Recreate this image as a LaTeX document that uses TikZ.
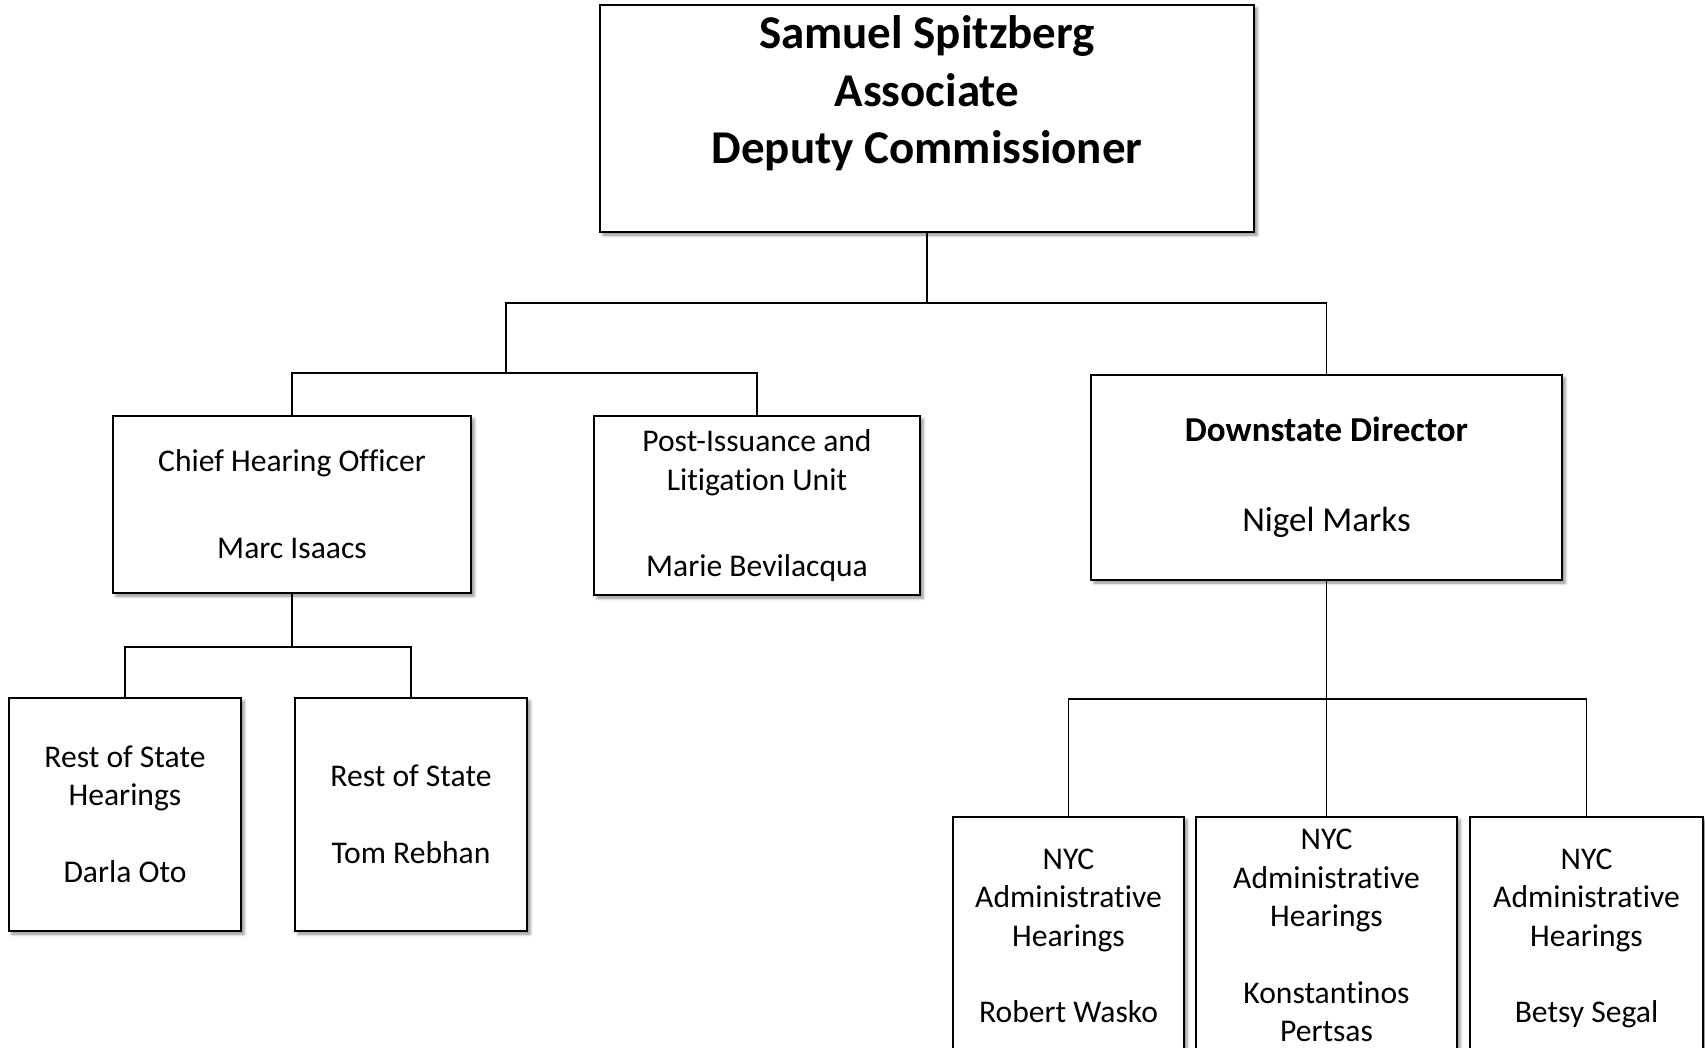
\documentclass[tikz,border=0pt]{standalone}
\usepackage{fontspec}
\setmainfont{Carlito}[Ligatures=NoCommon]
\usetikzlibrary{shadows.blur}

\tikzset{
  unit/.style={draw, line width=1.6pt, fill=white, align=center, inner sep=0pt,
    blur shadow={shadow xshift=3pt, shadow yshift=-3pt, shadow blur radius=3pt, shadow opacity=45},
    font=\fontsize{31.6}{38.5}\selectfont},
  nycunit/.style={unit, minimum height=237pt, text depth=0pt},
  link/.style={line width=1.6pt},
}

\begin{document}
\begin{tikzpicture}[x=1pt,y=1pt,yscale=-1,xscale=1]
\useasboundingbox (0,0) rectangle (1705,1047);

%Shape: top box
\node[unit, minimum width=654pt, minimum height=227pt, font=\bfseries\fontsize{47}{57.6}\selectfont] (sam) at (927,118.5) {Samuel Spitzberg\\Associate\\Deputy Commissioner\\ \mbox{}};

%Shape: second row
\node[unit, minimum width=358pt, minimum height=177pt, text depth=0pt] (chief) at (292,504.5) {Chief Hearing Officer\\[48.5pt]Marc Isaacs};
\node[unit, minimum width=326pt, minimum height=179pt] (post) at (757,505.5) {Post-Issuance and\\Litigation Unit\\[47.5pt]Marie Bevilacqua};
\node[unit, minimum width=471pt, minimum height=205pt, font=\fontsize{35}{43}\selectfont] (down) at (1326.5,477.5) {\textbf{Downstate Director}\\[47pt]Nigel Marks};

%Shape: rest of state
\node[unit, minimum width=232pt, minimum height=233pt] (rosh) at (125,814.5) {Rest of State\\Hearings\\[38.5pt]Darla Oto};
\node[unit, minimum width=232pt, minimum height=233pt] (ros) at (411,814.5) {Rest of State\\[38.5pt]Tom Rebhan};

%Shape: nyc
\node[nycunit, minimum width=231pt] (nyca) at (1068.5,935.5) {NYC\\Administrative\\Hearings\\[38pt]Robert Wasko};
\node[nycunit, minimum width=261pt] (nycb) at (1326.5,935.5) {NYC\\Administrative\\Hearings\\[38pt]Konstantinos\\Pertsas};
\node[nycunit, minimum width=233pt] (nycc) at (1586.5,935.5) {NYC\\Administrative\\Hearings\\[38pt]Betsy Segal};

% Connectors
\coordinate (lefthub) at (506,373);
\draw[link] (sam.south) -- ++(0,70) -| (lefthub);
\draw[link] (sam.south) -- ++(0,70) -| (down.north);
\draw[link] (lefthub) -| (chief.north);
\draw[link] (lefthub) -| (post.north);
\draw[link] (chief.south) -- ++(0,53) -| (rosh.north);
\draw[link] (chief.south) -- ++(0,53) -| (ros.north);
\draw[link] (down.south) -- ++(0,118) -| (nyca.north);
\draw[link] (down.south) -- (nycb.north);
\draw[link] (down.south) -- ++(0,118) -| (nycc.north);

\end{tikzpicture}
\end{document}
